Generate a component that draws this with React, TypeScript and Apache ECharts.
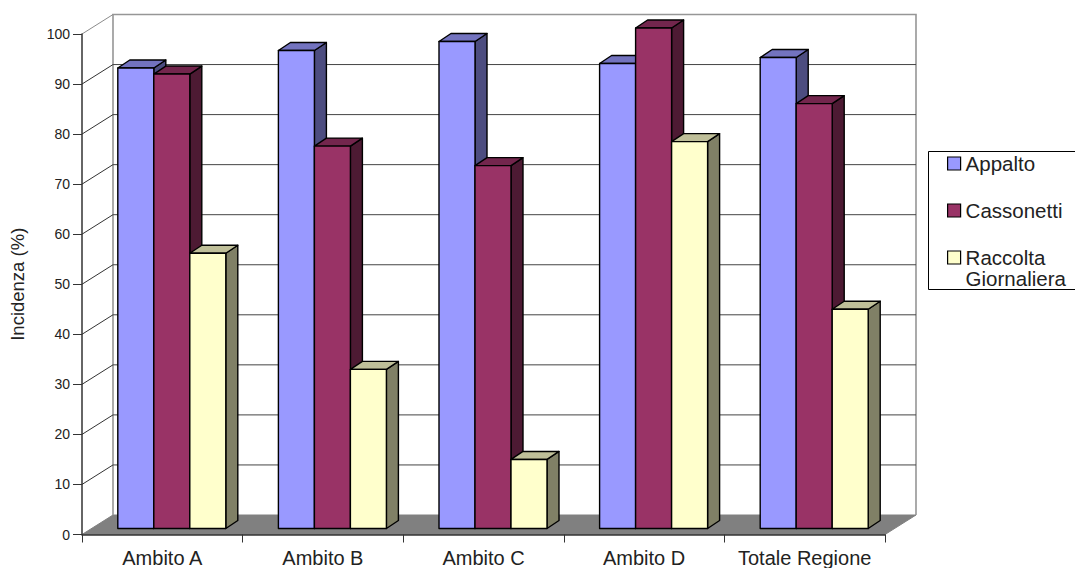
import React, { useEffect, useRef } from "react";
import * as echarts from "echarts";

const categories = ["Ambito A", "Ambito B", "Ambito C", "Ambito D", "Totale Regione"];
const appalto = [92, 95.5, 97.3, 92.9, 94.1];
const cassonetti = [90.8, 76.4, 72.5, 100, 84.9];
const raccolta = [55, 31.8, 13.8, 77.3, 43.8];
const ticks = [0, 10, 20, 30, 40, 50, 60, 70, 80, 90, 100];
const seriesNames = ["Appalto", "Cassonetti", "Raccolta\nGiornaliera"];
const fronts = ["#9999FF", "#993366", "#FFFFCC"];
const tops = ["#7373BF", "#73264D", "#BFBF99"];
const sides = ["#4D4D80", "#4D1A33", "#808066"];

const FONT = "'Liberation Sans', Arial, sans-serif";
const WALL_DX = 31;
const WALL_DY = -19.5;
const BAR_DX = 9.5;
const BAR_DY = -6;
const DEPTH_X = 12;
const DEPTH_Y = -8;
const BAR_RATIO = 36 / 160.6;

function barRenderer(seriesIdx: number) {
  return (_params: any, api: any) => {
    const cat = api.value(0);
    const val = api.value(1);
    const band = api.size([1, 0])[0];
    const w = band * BAR_RATIO;
    const center = api.coord([cat, 0])[0];
    const x0 = center - 1.5 * w + seriesIdx * w + BAR_DX;
    const x1 = x0 + w;
    const yB = api.coord([cat, 0])[1] + BAR_DY;
    const yT = api.coord([cat, val])[1] + BAR_DY;
    const stroke = { stroke: "#000", lineWidth: 1.4, lineJoin: "round" };
    return {
      type: "group",
      children: [
        {
          type: "polygon",
          shape: { points: [[x1, yB], [x1 + DEPTH_X, yB + DEPTH_Y], [x1 + DEPTH_X, yT + DEPTH_Y], [x1, yT]] },
          style: { fill: sides[seriesIdx], ...stroke },
        },
        {
          type: "polygon",
          shape: { points: [[x0, yT], [x0 + DEPTH_X, yT + DEPTH_Y], [x1 + DEPTH_X, yT + DEPTH_Y], [x1, yT]] },
          style: { fill: tops[seriesIdx], ...stroke },
        },
        {
          type: "polygon",
          shape: { points: [[x0, yB], [x1, yB], [x1, yT], [x0, yT]] },
          style: { fill: fronts[seriesIdx], ...stroke },
        },
      ],
    };
  };
}

function wallRenderer(params: any, api: any) {
  const cs = params.coordSys;
  const v = api.value(1);
  const y = api.coord([0, v])[1];
  const xL = cs.x;
  const xR = cs.x + cs.width;
  const children: any[] = [];
  if (v === 0) {
    children.push({
      type: "polygon",
      shape: { points: [[xL, y], [xL + WALL_DX, y + WALL_DY], [xR + WALL_DX, y + WALL_DY], [xR, y]] },
      style: { fill: "#808080", stroke: "#808080", lineWidth: 1 },
    });
    const top = cs.y + WALL_DY;
    children.push({
      type: "polyline",
      shape: { points: [[xL + WALL_DX, y + WALL_DY], [xL + WALL_DX, top], [xR + WALL_DX, top], [xR + WALL_DX, y + WALL_DY]] },
      style: { fill: "none", stroke: "#969696", lineWidth: 1.6 },
    });
    return { type: "group", children };
  }
  const col = v === 100 ? "#8c8c8c" : "#333333";
  children.push({
    type: "line",
    shape: { x1: xL, y1: y, x2: xL + WALL_DX, y2: y + WALL_DY },
    style: { stroke: col, lineWidth: 1 },
  });
  if (v !== 100) {
    children.push({
      type: "line",
      shape: { x1: xL + WALL_DX, y1: y + WALL_DY, x2: xR + WALL_DX, y2: y + WALL_DY },
      style: { stroke: "#444444", lineWidth: 1 },
    });
  }
  return { type: "group", children };
}

export default function App() {
  const ref = useRef<HTMLDivElement>(null);
  useEffect(() => {
    const chart = echarts.init(ref.current!, undefined, { renderer: "svg" });
    const values = [appalto, cassonetti, raccolta];
    chart.setOption({
      animation: false,
      backgroundColor: "#fff",
      grid: { left: 82, top: 34, width: 803, height: 500.5, containLabel: false, outerBoundsMode: "none" },
      xAxis: {
        type: "category",
        data: categories,
        z: 5,
        axisLine: { lineStyle: { color: "#333", width: 1.5 } },
        axisTick: { show: true, alignWithLabel: false, length: 8, lineStyle: { color: "#333", width: 1 } },
        axisLabel: { color: "#222", fontFamily: FONT, fontSize: 20, margin: 13, interval: 0 },
        splitLine: { show: false },
      },
      yAxis: {
        type: "value",
        min: 0,
        max: 100,
        interval: 10,
        z: 5,
        name: "Incidenza (%)",
        nameLocation: "middle",
        nameGap: 55,
        nameTextStyle: { color: "#222", fontFamily: FONT, fontSize: 18.5 },
        axisLine: { show: true, lineStyle: { color: "#333", width: 1.5 } },
        axisTick: { show: true, length: 9, lineStyle: { color: "#333", width: 1 } },
        axisLabel: { color: "#222", fontFamily: FONT, fontSize: 14, margin: 12 },
        splitLine: { show: false },
      },
      legend: {
        orient: "vertical",
        left: 947,
        top: 132,
        padding: 0,
        itemGap: -16,
        itemWidth: 13,
        itemHeight: 13,
        icon: "rect",
        selectedMode: false,
        itemStyle: { borderColor: "#000", borderWidth: 1.2 },
        data: seriesNames,
        formatter: (n: string) => (n.includes("\n") ? "\n" + n : "\n" + n + "\n"),
        textStyle: { color: "#222", fontFamily: FONT, fontSize: 20.5, lineHeight: 21, padding: [0, 0, 0, 0] },
      },
      graphic: [
        {
          type: "rect",
          z: -1,
          shape: { x: 928.5, y: 151.5, width: 150, height: 138 },
          style: { fill: "#fff", stroke: "#000", lineWidth: 1 },
        },
      ],
      series: [
        {
          type: "custom",
          name: "wall",
          z: 1,
          silent: true,
          clip: false,
          renderItem: wallRenderer,
          encode: { x: 0, y: 1 },
          data: ticks.map((t) => [0, t]),
        },
        ...seriesNames.map((name, i) => ({
          type: "custom",
          name,
          z: 2,
          clip: false,
          silent: true,
          itemStyle: { color: fronts[i] },
          renderItem: barRenderer(i),
          encode: { x: 0, y: 1 },
          data: values[i].map((v, c) => [c, v]),
        })),
      ],
    });
    return () => chart.dispose();
  }, []);
  return <div ref={ref} style={{ position: "fixed", left: 0, top: 0, width: 1075, height: 568 }} />;
}
